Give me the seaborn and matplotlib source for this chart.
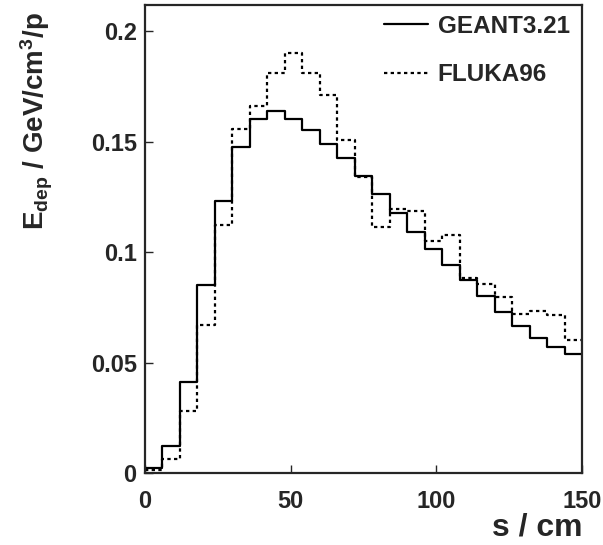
import numpy as np
import pandas as pd
import matplotlib
matplotlib.use("Agg")
import matplotlib.pyplot as plt
import seaborn as sns

# ---- data ----
bin_edges = list(range(0, 151, 6))  # 25 bins of 6 cm
geant = [0.0021, 0.0123, 0.0410, 0.0851, 0.1234, 0.1477, 0.1603, 0.1642, 0.1603,
         0.1555, 0.1492, 0.1427, 0.1344, 0.1264, 0.1178, 0.1093, 0.1016, 0.0942,
         0.0875, 0.0802, 0.0731, 0.0666, 0.0613, 0.0573, 0.0538]
fluka = [0.0015, 0.0063, 0.0282, 0.0670, 0.1123, 0.1558, 0.1664, 0.1811, 0.1902,
         0.1814, 0.1713, 0.1507, 0.1340, 0.1115, 0.1197, 0.1186, 0.1049, 0.1077,
         0.0885, 0.0854, 0.0799, 0.0719, 0.0734, 0.0714, 0.0603]
series_names = ["GEANT3.21", "FLUKA96"]
xticks = [0, 50, 100, 150]
xtick_labels = ["0", "50", "100", "150"]
yticks = [0, 0.05, 0.1, 0.15, 0.2]
ytick_labels = ["0", "0.05", "0.1", "0.15", "0.2"]

centers = [(a + b) / 2 for a, b in zip(bin_edges[:-1], bin_edges[1:])]
df = pd.DataFrame({
    "s": centers * 2,
    "edep": geant + fluka,
    "model": [series_names[0]] * len(geant) + [series_names[1]] * len(fluka),
})

sns.set_style("ticks")
plt.rcParams["font.family"] = ["Liberation Sans", "DejaVu Sans"]
plt.rcParams["font.weight"] = "bold"
plt.rcParams["mathtext.fontset"] = "custom"
plt.rcParams["mathtext.rm"] = "Liberation Sans:bold"
plt.rcParams["mathtext.it"] = "Liberation Sans:bold"
plt.rcParams["mathtext.bf"] = "Liberation Sans:bold"

fig = plt.figure(figsize=(6.03, 5.45), dpi=100)
ax = fig.add_axes([145 / 603, 1 - 473 / 545, (582 - 145) / 603, (473 - 5) / 545])

styles = {series_names[0]: "-", series_names[1]: (0, (1.5, 1.5))}
for name in series_names:
    sub = df[df["model"] == name]
    sns.histplot(data=sub, x="s", weights="edep", bins=bin_edges, element="step",
                 fill=False, color="black", linewidth=1.6, linestyle=styles[name],
                 label=name, ax=ax)

ax.set_xlim(0, 150)
ax.set_ylim(0, 0.212)
ax.set_xticks(xticks)
ax.set_xticklabels(xtick_labels)
ax.set_yticks(yticks)
ax.set_yticklabels(ytick_labels)
ax.tick_params(axis="both", direction="in", length=6, width=1, labelsize=17,
               top=False, right=False)
ax.tick_params(axis="x", pad=12)
ax.tick_params(axis="y", pad=6)
for sp in ax.spines.values():
    sp.set_visible(True)
    sp.set_linewidth(1.6)

ax.set_xlabel("s / cm", fontsize=23, fontweight="bold", loc="right")
ax.xaxis.set_label_coords(1.0, -0.085)
ax.set_ylabel(r"E$_{\rm dep}$ / GeV/cm$^{3}$/p", fontsize=20, fontweight="bold", loc="top")
ax.yaxis.set_label_coords(-0.205, 0.985)

leg = ax.legend(loc="upper right", bbox_to_anchor=(1.0, 1.005), frameon=False,
                fontsize=17.5, handlelength=1.8, handletextpad=0.4,
                labelspacing=1.05, borderaxespad=0.1)
for t in leg.get_texts():
    t.set_fontweight("bold")

fig.savefig("out.png", dpi=100)
